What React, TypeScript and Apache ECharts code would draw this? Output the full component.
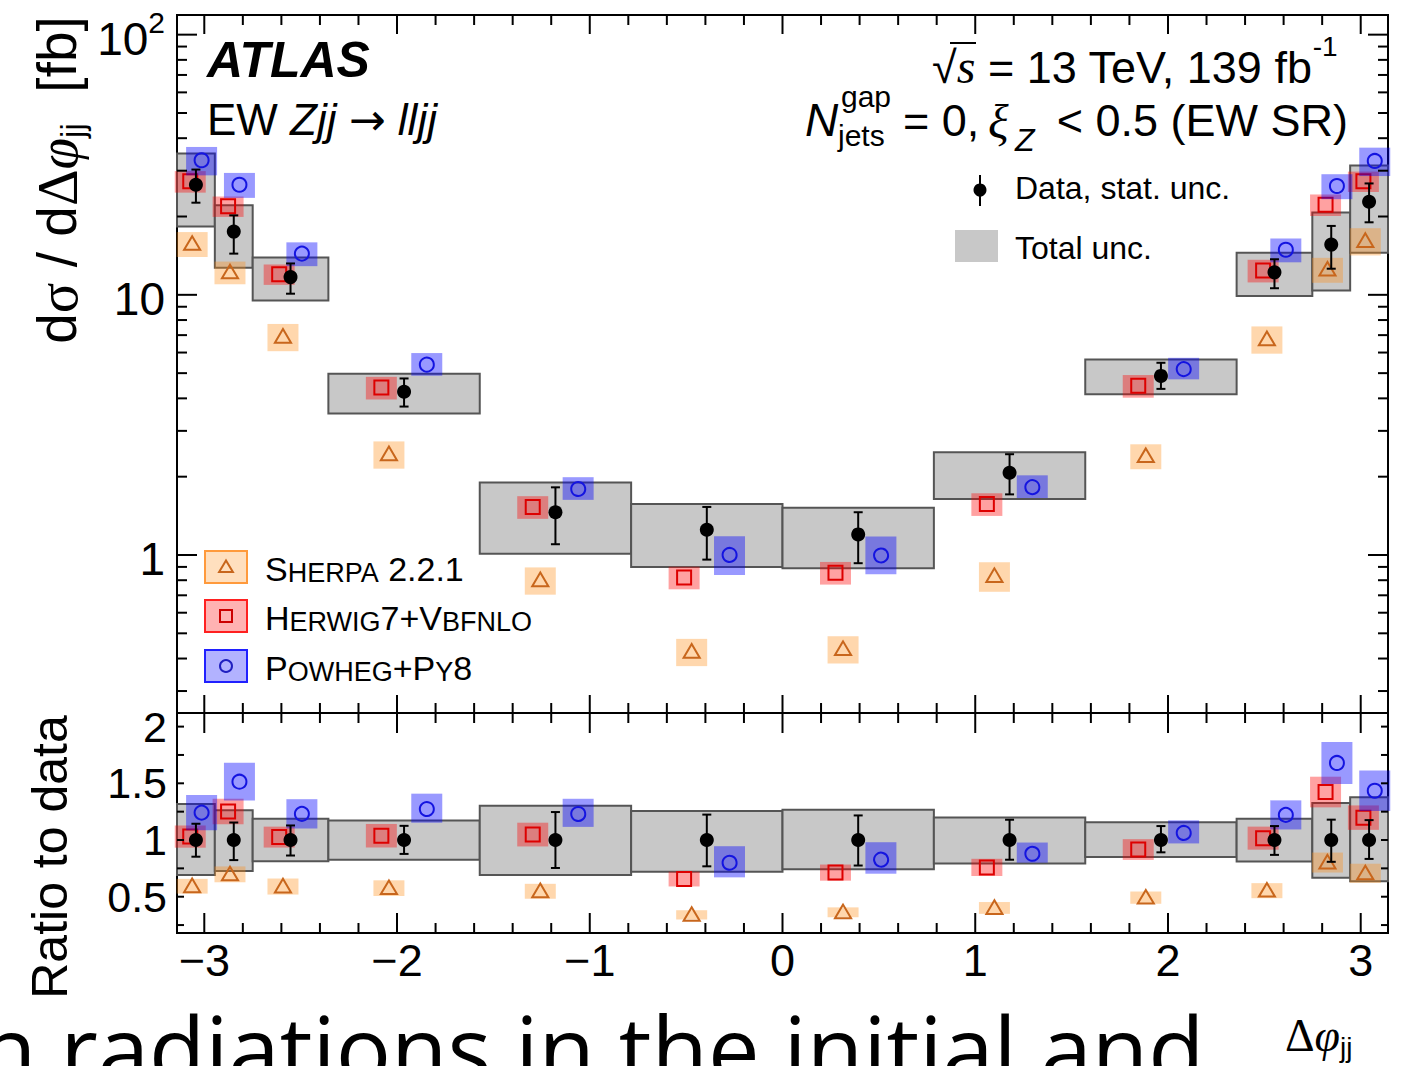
import React, { useEffect, useRef } from "react";
import * as echarts from "echarts";

const PI = Math.PI;

// Δφjj bin edges
const binEdges = [-PI, (-15 * PI) / 16, (-7 * PI) / 8, (-3 * PI) / 4, -PI / 2, -PI / 4, 0, PI / 4, PI / 2, (3 * PI) / 4, (7 * PI) / 8, (15 * PI) / 16, PI];

// measured cross-section [fb]
const dataValues = [26.5, 17.5, 11.7, 4.24, 1.46, 1.25, 1.2, 2.07, 4.88, 12.2, 15.6, 22.8];
const statLow = [22.6, 14.4, 10.1, 3.72, 1.1, 0.96, 0.93, 1.71, 4.35, 10.6, 12.6, 19.0];
const statHigh = [30.3, 20.2, 13.2, 4.77, 1.82, 1.53, 1.46, 2.44, 5.48, 13.7, 18.4, 26.8];
const totalLow = [18.3, 12.7, 9.5, 3.5, 1.01, 0.9, 0.89, 1.64, 4.15, 9.9, 10.4, 14.5];
const totalHigh = [34.9, 22.1, 13.9, 4.97, 1.9, 1.57, 1.52, 2.48, 5.64, 14.5, 20.7, 31.4];

// predictions [fb] and relative uncertainty
const sherpaValues = [15.7, 12.2, 6.9, 2.44, 0.8, 0.425, 0.435, 0.83, 2.4, 6.75, 12.5, 16.1];
const sherpaUnc = [0.11, 0.1, 0.12, 0.12, 0.12, 0.12, 0.12, 0.13, 0.11, 0.12, 0.11, 0.12];
const herwigValues = [27.3, 21.9, 12.0, 4.4, 1.53, 0.82, 0.855, 1.57, 4.47, 12.4, 22.2, 27.3];
const herwigUnc = [0.095, 0.09, 0.09, 0.1, 0.1, 0.1, 0.1, 0.1, 0.1, 0.1, 0.095, 0.09];
const powhegValues = [32.9, 26.5, 14.4, 5.43, 1.81, 1.01, 1.01, 1.84, 5.23, 14.9, 26.2, 32.7];
const powhegUnc = [0.125, 0.11, 0.105, 0.1, 0.1, 0.17, 0.165, 0.1, 0.095, 0.105, 0.11, 0.125];

// tick labels
const xTickLabels = [-3, -2, -1, 0, 1, 2, 3];
const mainYTickLabels = [1, 10, 100];
const ratioYTickLabels = [0.5, 1, 1.5, 2];

const FONT = "'Liberation Sans', Arial, Helvetica, sans-serif";
const SERIF = "'Liberation Serif', 'Times New Roman', serif";

const centers = binEdges.slice(0, -1).map((e, i) => (e + binEdges[i + 1]) / 2);
const widths = binEdges.slice(0, -1).map((e, i) => binEdges[i + 1] - e);

const models = [
  { vals: sherpaValues, unc: sherpaUnc, frac: -0.1, box: "rgba(255,140,20,0.35)", line: "#c8661c", shape: "triangle" },
  { vals: herwigValues, unc: herwigUnc, frac: -0.15, box: "rgba(255,0,0,0.37)", line: "#dd0000", shape: "square" },
  { vals: powhegValues, unc: powhegUnc, frac: 0.15, box: "rgba(0,0,255,0.4)", line: "#1414e0", shape: "circle" },
];

function marker(shape: string, cx: number, cy: number, color: string, s: number): any {
  const st = { fill: "none", stroke: color, lineWidth: 2 };
  if (shape === "circle") return { type: "circle", shape: { cx, cy, r: s }, style: st };
  if (shape === "square") return { type: "rect", shape: { x: cx - s, y: cy - s, width: 2 * s, height: 2 * s }, style: st };
  return {
    type: "polygon",
    shape: { points: [[cx, cy - s * 1.1], [cx - s * 1.15, cy + s * 0.85], [cx + s * 1.15, cy + s * 0.85]] },
    style: st,
  };
}

function boxSeries(idx: number, lo: number[], hi: number[]) {
  return {
    type: "custom",
    xAxisIndex: idx,
    yAxisIndex: idx,
    silent: true,
    encode: { x: [0, 1], y: [2, 3] },
    data: centers.map((c, i) => [binEdges[i], binEdges[i + 1], lo[i], hi[i]]),
    renderItem: (params: any, api: any) => {
      const p1 = api.coord([api.value(0), api.value(3)]);
      const p2 = api.coord([api.value(1), api.value(2)]);
      return {
        type: "rect",
        shape: { x: p1[0], y: p1[1], width: p2[0] - p1[0], height: p2[1] - p1[1] },
        style: { fill: "#c8c8c8", stroke: "#555555", lineWidth: 2 },
      };
    },
  };
}

function modelSeries(idx: number, m: any, ratio: boolean) {
  return {
    type: "custom",
    xAxisIndex: idx,
    yAxisIndex: idx,
    silent: true,
    encode: { x: 0, y: 2 },
    data: centers.map((c, i) => [c, widths[i], ratio ? m.vals[i] / dataValues[i] : m.vals[i], m.unc[i]]),
    renderItem: (params: any, api: any) => {
      const xc = api.value(0) + m.frac * api.value(1);
      const v = api.value(2);
      const u = api.value(3);
      const c = api.coord([xc, v]);
      const t = api.coord([xc, v * (1 + u)])[1];
      const b = api.coord([xc, v * (1 - u)])[1];
      return {
        type: "group",
        children: [
          { type: "rect", shape: { x: c[0] - 15.5, y: t, width: 31, height: b - t }, style: { fill: m.box } },
          marker(m.shape, c[0], c[1], m.line, 7),
        ],
      };
    },
  };
}

function dataSeries(idx: number, vals: number[], lo: number[], hi: number[]) {
  return {
    type: "custom",
    xAxisIndex: idx,
    yAxisIndex: idx,
    silent: true,
    encode: { x: 0, y: [1, 2, 3] },
    data: centers.map((c, i) => [c, vals[i], lo[i], hi[i]]),
    renderItem: (params: any, api: any) => {
      const c = api.coord([api.value(0), api.value(1)]);
      const l = api.coord([api.value(0), api.value(2)])[1];
      const h = api.coord([api.value(0), api.value(3)])[1];
      const st = { stroke: "#000", lineWidth: 2 };
      return {
        type: "group",
        children: [
          { type: "line", shape: { x1: c[0], y1: h, x2: c[0], y2: l }, style: st },
          { type: "line", shape: { x1: c[0] - 4.5, y1: h, x2: c[0] + 4.5, y2: h }, style: st },
          { type: "line", shape: { x1: c[0] - 4.5, y1: l, x2: c[0] + 4.5, y2: l }, style: st },
          { type: "circle", shape: { cx: c[0], cy: c[1], r: 7 }, style: { fill: "#000" } },
        ],
      };
    },
  };
}

function tickSeries(idx: number, ticks: number[][]) {
  return {
    type: "custom",
    xAxisIndex: idx,
    yAxisIndex: idx,
    silent: true,
    z: 10,
    encode: { x: 0, y: 1 },
    data: ticks,
    renderItem: (params: any, api: any) => {
      const cs = params.coordSys;
      const p = api.coord([api.value(0), api.value(1)]);
      const a = api.value(2);
      const b = api.value(4);
      const st = { stroke: "#000", lineWidth: 2 };
      if (api.value(3) === 0) {
        return {
          type: "group",
          children: [
            { type: "line", shape: { x1: p[0], y1: cs.y, x2: p[0], y2: cs.y + a }, style: st },
            { type: "line", shape: { x1: p[0], y1: cs.y + cs.height, x2: p[0], y2: cs.y + cs.height - b }, style: st },
          ],
        };
      }
      return {
        type: "group",
        children: [
          { type: "line", shape: { x1: cs.x, y1: p[1], x2: cs.x + a, y2: p[1] }, style: st },
          { type: "line", shape: { x1: cs.x + cs.width, y1: p[1], x2: cs.x + cs.width - b, y2: p[1] }, style: st },
        ],
      };
    },
  };
}

function xTickData(ref: number, majTop: number, majBot: number, minTop: number, minBot: number) {
  const out: number[][] = [];
  for (let k = -15; k <= 15; k++) {
    const v = k * 0.2;
    if (Math.abs(v) > PI) continue;
    const major = k % 5 === 0;
    out.push([v, ref, major ? majTop : minTop, 0, major ? majBot : minBot]);
  }
  return out;
}

function mainYTickData() {
  const out: number[][] = [];
  [0.1, 1, 10].forEach((d) => {
    for (let m = 1; m <= 9; m++) {
      const v = m * d;
      if (v < 0.247 || v > 119) continue;
      const major = m === 1;
      out.push([0, v, major ? 20 : 10, 1, major ? 20 : 10]);
    }
  });
  out.push([0, 100, 20, 1, 20]);
  return out;
}

function ratioYTickData() {
  const out: number[][] = [];
  for (let k = 1; k <= 8; k++) out.push([0, k * 0.25, 7, 1, 7]);
  return out;
}

function txt(x: number, y: number, text: string, opts: any = {}): any {
  const align = opts.align || "left";
  return {
    type: "text",
    x,
    y,
    silent: true,
    rotation: opts.rotation || 0,
    style: {
      text,
      fontFamily: FONT,
      fontSize: 44,
      fill: "#000",
      align,
      textAlign: align,
      verticalAlign: "middle",
      textVerticalAlign: "middle",
      ...opts.style,
    },
  };
}

function buildOption(): any {
  const axisOff = { axisLine: { show: false }, axisTick: { show: false }, splitLine: { show: false } };
  const fmtX = (v: number) => (Math.abs(v - Math.round(v)) > 1e-6 ? "" : v < 0 ? "\u2212" + Math.abs(v) : String(v));
  const fmtMainY = (v: number) => {
    const l = Math.log10(v);
    if (Math.abs(l - Math.round(l)) > 1e-6) return "";
    if (Math.round(l) === 2) return "{b|10}{sup|2}";
    return "{b|" + Math.round(v) + "}";
  };
  const fmtRatio = (v: number) => (Math.abs(v * 2 - Math.round(v * 2)) > 1e-6 ? "" : String(v));

  const legendRows = [
    { y: 567, box: "rgba(255,140,20,0.28)", border: "#ff9a3c", shape: "triangle", color: "#c8661c", text: "{b|S}{s|HERPA}{b| 2.2.1}" },
    { y: 616, box: "rgba(255,0,0,0.3)", border: "#ff2020", shape: "square", color: "#cc0000", text: "{b|H}{s|ERWIG}{b|7+V}{s|BFNLO}" },
    { y: 666, box: "rgba(0,0,255,0.3)", border: "#2020ff", shape: "circle", color: "#2020c0", text: "{b|P}{s|OWHEG}{b|+P}{s|Y}{b|8}" },
  ];
  const smallCapsRich = {
    b: { fontFamily: FONT, fontSize: 34, lineHeight: 34, verticalAlign: "bottom" },
    s: { fontFamily: FONT, fontSize: 27, lineHeight: 27, verticalAlign: "bottom" },
  };

  const graphics: any[] = [
    txt(207, 60, "ATLAS", { style: { fontSize: 50, fontWeight: "bold", fontStyle: "italic" } }),
    txt(207, 119, "{n|EW }{i|Zjj}{n| }{a|\u2192}{n| }{i|lljj}", {
      style: {
        rich: {
          n: { fontFamily: FONT, fontSize: 44 },
          a: { fontFamily: "'DejaVu Sans', sans-serif", fontSize: 44 },
          i: { fontFamily: FONT, fontSize: 44, fontStyle: "italic" },
        },
      },
    }),
    txt(932, 61, "{n|\u221A}{s|s}{n| = 13 TeV, 139 fb}{sup|-1}", {
      style: {
        rich: {
          n: { fontFamily: FONT, fontSize: 45, lineHeight: 58, verticalAlign: "bottom" },
          s: { fontFamily: SERIF, fontSize: 48, fontStyle: "italic", lineHeight: 58, verticalAlign: "bottom" },
          sup: { fontFamily: FONT, fontSize: 28, lineHeight: 24, verticalAlign: "top" },
        },
      },
    }),
    { type: "line", silent: true, shape: { x1: 950, y1: 43, x2: 976, y2: 43 }, style: { stroke: "#000", lineWidth: 2 } },
    txt(805, 120, "N", { style: { fontSize: 46, fontStyle: "italic" } }),
    txt(841, 96, "gap", { style: { fontSize: 30 } }),
    txt(838, 135, "jets", { style: { fontSize: 30 } }),
    txt(903, 120, "= 0,", { style: { fontSize: 45 } }),
    txt(988, 121, "\u03BE", { style: { fontSize: 48, fontFamily: SERIF, fontStyle: "italic" } }),
    txt(1015, 140, "Z", { style: { fontSize: 32, fontStyle: "italic" } }),
    txt(1348, 120, "< 0.5 (EW SR)", { align: "right", style: { fontSize: 45 } }),
    // data legend
    { type: "line", silent: true, shape: { x1: 980, y1: 175, x2: 980, y2: 206 }, style: { stroke: "#000", lineWidth: 2 } },
    { type: "circle", silent: true, shape: { cx: 980, cy: 190, r: 6.5 }, style: { fill: "#000" } },
    txt(1015, 188, "Data, stat. unc.", { style: { fontSize: 32 } }),
    { type: "rect", silent: true, shape: { x: 955, y: 230, width: 43, height: 32 }, style: { fill: "#c8c8c8" } },
    txt(1015, 248, "Total unc.", { style: { fontSize: 32 } }),
    // axis titles
    txt(57, 180, "{n|d}{g|\u03C3}{n| / d}{g|\u0394}{gi|\u03C6}{sub|jj}{n|  [fb]}", {
      align: "center",
      rotation: PI / 2,
      style: {
        rich: {
          n: { fontFamily: FONT, fontSize: 55, lineHeight: 64 },
          g: { fontFamily: SERIF, fontSize: 57, lineHeight: 64 },
          gi: { fontFamily: SERIF, fontSize: 57, fontStyle: "italic", lineHeight: 64 },
          sub: { fontFamily: FONT, fontSize: 33, lineHeight: 33, verticalAlign: "bottom" },
        },
      },
    }),
    txt(50, 857, "Ratio to data", { align: "center", rotation: PI / 2, style: { fontSize: 50 } }),
    txt(1285, 1035, "{g|\u0394}{gi|\u03C6}{sub|jj}", {
      style: {
        rich: {
          g: { fontFamily: SERIF, fontSize: 46, lineHeight: 52 },
          gi: { fontFamily: SERIF, fontSize: 46, fontStyle: "italic", lineHeight: 52 },
          sub: { fontFamily: FONT, fontSize: 28, lineHeight: 28, verticalAlign: "bottom" },
        },
      },
    }),
    // slide text cut at the bottom of the page
    txt(-20, 1047, "n radiations in the initial and", { style: { fontSize: 92, fontFamily: "'Open Sans', 'Noto Sans', sans-serif" } }),
  ];

  legendRows.forEach((r) => {
    graphics.push({
      type: "rect",
      silent: true,
      shape: { x: 205, y: r.y - 16, width: 42, height: 32 },
      style: { fill: r.box, stroke: r.border, lineWidth: 2 },
    });
    graphics.push({ ...marker(r.shape, 226, r.y, r.color, 6), silent: true });
    graphics.push(txt(265, r.y + 2, r.text, { style: { rich: smallCapsRich } }));
  });

  const series: any[] = [
    boxSeries(0, totalLow, totalHigh),
    ...models.map((m) => modelSeries(0, m, false)),
    dataSeries(0, dataValues, statLow, statHigh),
    tickSeries(0, [...xTickData(1, 19, 18, 10, 10), ...mainYTickData()]),
    boxSeries(1, totalLow.map((v, i) => v / dataValues[i]), totalHigh.map((v, i) => v / dataValues[i])),
    ...models.map((m) => modelSeries(1, m, true)),
    dataSeries(1, dataValues.map((v) => v / v), statLow.map((v, i) => v / dataValues[i]), statHigh.map((v, i) => v / dataValues[i])),
    tickSeries(1, [...xTickData(1, 20, 20, 10, 10), ...ratioYTickData()]),
  ];

  return {
    animation: false,
    backgroundColor: "#fff",
    grid: [
      { left: 177, top: 15, width: 1211, height: 698, show: true, borderColor: "#000", borderWidth: 2, containLabel: false, outerBoundsMode: "none" },
      { left: 177, top: 713, width: 1211, height: 220, show: true, borderColor: "#000", borderWidth: 2, containLabel: false, outerBoundsMode: "none" },
    ],
    xAxis: [
      { gridIndex: 0, type: "value", min: -PI, max: PI, ...axisOff, axisLabel: { show: false } },
      {
        gridIndex: 1,
        type: "value",
        min: -PI,
        max: PI,
        ...axisOff,
        axisLabel: {
          show: true,
          customValues: xTickLabels,
          formatter: fmtX,
          fontSize: 45,
          fontFamily: FONT,
          color: "#000",
          margin: 5,
        },
      },
    ],
    yAxis: [
      {
        gridIndex: 0,
        type: "log",
        logBase: 10,
        min: 0.247,
        max: 119,
        ...axisOff,
        axisLabel: {
          show: true,
          customValues: mainYTickLabels,
          formatter: fmtMainY,
          color: "#000",
          margin: 12,
          fontFamily: FONT,
          fontSize: 46,
          rich: {
            b: { fontFamily: FONT, fontSize: 46, lineHeight: 54, verticalAlign: "bottom", color: "#000" },
            sup: { fontFamily: FONT, fontSize: 30, lineHeight: 30, verticalAlign: "top", color: "#000" },
          },
        },
      },
      {
        gridIndex: 1,
        type: "value",
        min: 0.18,
        max: 2.12,
        ...axisOff,
        axisLabel: {
          show: true,
          customValues: ratioYTickLabels,
          formatter: fmtRatio,
          fontSize: 43,
          fontFamily: FONT,
          color: "#000",
          margin: 10,
        },
      },
    ],
    graphic: { elements: graphics },
    series,
  };
}

export default function App() {
  const ref = useRef<HTMLDivElement>(null);
  useEffect(() => {
    document.body.style.margin = "0";
    const chart = echarts.init(ref.current as HTMLDivElement, undefined, { renderer: "svg", width: 1402, height: 1066 });
    chart.setOption(buildOption());
    return () => chart.dispose();
  }, []);
  return (
    <div
      ref={ref}
      style={{ position: "absolute", left: 0, top: 0, width: 1402, height: 1066, overflow: "hidden", background: "#fff" }}
    />
  );
}
